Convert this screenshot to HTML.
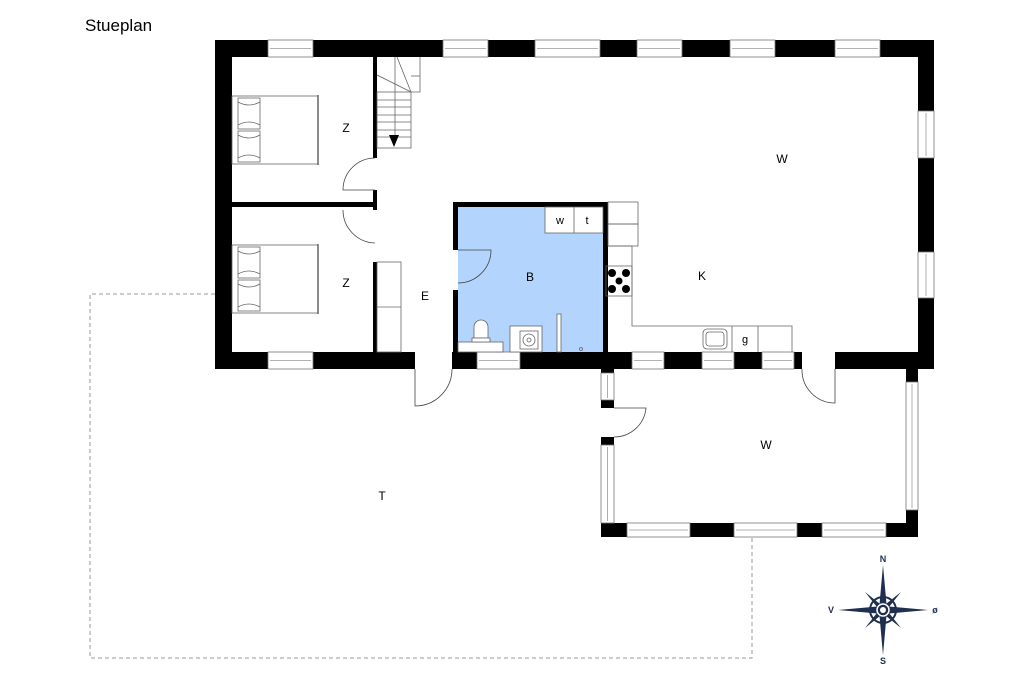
<!DOCTYPE html>
<html><head><meta charset="utf-8"><style>
html,body{margin:0;padding:0;background:#fff;}
svg{display:block;font-family:"Liberation Sans",sans-serif;}
</style></head><body>
<svg width="1024" height="682" viewBox="0 0 1024 682" xmlns="http://www.w3.org/2000/svg">
<rect width="1024" height="682" fill="#fff"/>
<text x="85" y="31" font-size="17" fill="#000">Stueplan</text>

<polyline points="215,294 90,294 90,658 752,658 752,537" fill="none" stroke="#999" stroke-width="1" stroke-dasharray="4,3"/>

<rect x="458" y="207" width="146" height="145" fill="#b3d4fc"/>

<g fill="#000">
<rect x="215" y="40" width="719" height="17"/>
<rect x="215" y="40" width="17" height="329"/>
<rect x="918" y="40" width="16" height="329"/>
<rect x="215" y="352" width="200" height="17"/>
<rect x="452" y="352" width="350" height="17"/>
<rect x="835" y="352" width="99" height="17"/>
<rect x="373" y="57" width="4" height="101"/>
<rect x="373" y="190" width="4" height="20"/>
<rect x="373" y="262" width="4" height="90"/>
<rect x="232" y="202" width="145" height="5"/>
<rect x="453" y="202" width="155" height="5"/>
<rect x="453" y="202" width="5" height="48"/>
<rect x="453" y="290" width="5" height="62"/>
<rect x="603" y="202" width="5" height="150"/>
<rect x="601" y="369" width="13" height="4"/>
<rect x="601" y="400" width="13" height="8"/>
<rect x="601" y="437" width="13" height="8"/>
<rect x="601" y="523" width="317" height="14"/>
<rect x="906" y="369" width="12" height="13"/>
<rect x="906" y="510" width="12" height="27"/>
</g>

<g fill="#fff" stroke="#777" stroke-width="0.8">
<rect x="268" y="40" width="45" height="17"/>
<rect x="443" y="40" width="45" height="17"/>
<rect x="535" y="40" width="65" height="17"/>
<rect x="637" y="40" width="45" height="17"/>
<rect x="730" y="40" width="45" height="17"/>
<rect x="835" y="40" width="45" height="17"/>
<rect x="918" y="111" width="16" height="47"/>
<rect x="918" y="252" width="16" height="46"/>
<rect x="268" y="352" width="45" height="17"/>
<rect x="477" y="352" width="43" height="17"/>
<rect x="632" y="352" width="32" height="17"/>
<rect x="702" y="352" width="32" height="17"/>
<rect x="762" y="352" width="32" height="17"/>
<rect x="627" y="523" width="63" height="14"/>
<rect x="734" y="523" width="63" height="14"/>
<rect x="822" y="523" width="64" height="14"/>
<rect x="601" y="373" width="13" height="27"/>
<rect x="601" y="445" width="13" height="78"/>
<rect x="906" y="382" width="12" height="128"/>
</g>
<g stroke="#999" stroke-width="0.8">
<line x1="270" y1="48.5" x2="311" y2="48.5"/><line x1="445" y1="48.5" x2="486" y2="48.5"/>
<line x1="537" y1="48.5" x2="598" y2="48.5"/><line x1="639" y1="48.5" x2="680" y2="48.5"/>
<line x1="732" y1="48.5" x2="773" y2="48.5"/><line x1="837" y1="48.5" x2="878" y2="48.5"/>
<line x1="926" y1="113" x2="926" y2="156"/><line x1="926" y1="254" x2="926" y2="296"/>
<line x1="270" y1="360.5" x2="311" y2="360.5"/><line x1="479" y1="360.5" x2="518" y2="360.5"/>
<line x1="634" y1="360.5" x2="662" y2="360.5"/><line x1="704" y1="360.5" x2="732" y2="360.5"/>
<line x1="764" y1="360.5" x2="792" y2="360.5"/>
<line x1="629" y1="530" x2="688" y2="530"/><line x1="736" y1="530" x2="795" y2="530"/>
<line x1="824" y1="530" x2="884" y2="530"/>
<line x1="607.5" y1="375" x2="607.5" y2="398"/><line x1="607.5" y1="447" x2="607.5" y2="521"/>
<line x1="912" y1="384" x2="912" y2="508"/>
</g>

<g fill="none" stroke="#444" stroke-width="0.8">
<path d="M375,158 A32,32 0 0 0 343,190 L375,190"/>
<path d="M343,210 A33,33 0 0 0 375,243"/>
<path d="M458,250 L491,250 A33,33 0 0 1 458,283"/>
<path d="M415,369 L415,406 A37,37 0 0 0 452,369"/>
<path d="M835,369 L835,403 A33,33 0 0 1 802,369"/>
<path d="M614,408 L646,408 A32,32 0 0 1 614,437"/>
</g>

<g fill="none" stroke="#666" stroke-width="0.8">
<rect x="232" y="96" width="86" height="68"/>
<line x1="318" y1="95" x2="318" y2="165" stroke-width="1.5"/>
<rect x="238" y="98" width="22" height="31"/><rect x="238" y="131" width="22" height="31"/>
<path d="M238,102 Q249,108 260,102 M238,125 Q249,119 260,125 M238,135 Q249,141 260,135 M238,158 Q249,152 260,158"/>
<rect x="232" y="245" width="86" height="68"/>
<line x1="318" y1="244" x2="318" y2="314" stroke-width="1.5"/>
<rect x="238" y="247" width="22" height="31"/><rect x="238" y="280" width="22" height="31"/>
<path d="M238,251 Q249,257 260,251 M238,274 Q249,268 260,274 M238,284 Q249,290 260,284 M238,307 Q249,301 260,307"/>
<rect x="377" y="92" width="34" height="56"/>
<polyline points="395,57 395,92 M411,92 411,57"/>
<line x1="411" y1="76" x2="420" y2="76"/><polyline points="420,57 420,92 411,92"/>
<line x1="377" y1="75" x2="411" y2="92"/><line x1="397" y1="57" x2="411" y2="92"/>
<line x1="377" y1="100" x2="411" y2="100"/><line x1="377" y1="107" x2="411" y2="107"/>
<line x1="377" y1="115" x2="411" y2="115"/><line x1="377" y1="122" x2="411" y2="122"/>
<line x1="377" y1="130" x2="411" y2="130"/><line x1="377" y1="137" x2="411" y2="137"/>
<line x1="395" y1="92" x2="395" y2="140"/>
<rect x="377" y="262" width="24" height="90"/><line x1="377" y1="307" x2="401" y2="307"/>
<rect x="545" y="207" width="58" height="26" fill="#fff"/><line x1="574" y1="207" x2="574" y2="233"/>
<rect x="458" y="342" width="45" height="10" fill="#fff"/>
<path d="M474,338 L474,327 A7,7 0 0 1 488,327 L488,338 Z" fill="#fff"/>
<rect x="472" y="338" width="18" height="4" fill="#fff"/>
<rect x="510" y="326" width="32" height="26" fill="#fff"/>
<rect x="520" y="331" width="18" height="18" fill="#fff"/>
<circle cx="529" cy="340" r="6"/><circle cx="529" cy="340" r="2"/>
<rect x="557" y="314" width="4" height="38" fill="#fff"/>
<circle cx="581" cy="349" r="1.5"/>
<rect x="608" y="202" width="30" height="22"/><rect x="608" y="224" width="30" height="22"/>
<polyline points="608,246 632,246 632,326 792,326 792,352"/>
<rect x="606" y="266" width="26" height="30"/>
<rect x="703" y="329" width="24" height="20" rx="4"/><rect x="706" y="332" width="18" height="14" rx="3"/>
<line x1="732" y1="326" x2="732" y2="352"/><line x1="758" y1="326" x2="758" y2="352"/>
</g>
<g fill="#000">
<circle cx="612" cy="273" r="4"/><circle cx="626" cy="273" r="4"/>
<circle cx="612" cy="289" r="4"/><circle cx="626" cy="289" r="4"/><circle cx="619" cy="281" r="3.5"/>
<polygon points="389,135 399,135 394,147"/>
</g>

<g font-size="12" fill="#000" text-anchor="middle">
<text x="346" y="132">Z</text><text x="346" y="287">Z</text>
<text x="425" y="300">E</text><text x="530" y="281">B</text>
<text x="702" y="280">K</text><text x="782" y="163">W</text>
<text x="766" y="449">W</text><text x="382" y="500">T</text>
<text x="560" y="224" font-size="11">w</text><text x="587" y="224" font-size="11">t</text>
<text x="745" y="343" font-size="11">g</text>
</g>

<g transform="translate(883,610)">
<circle r="13" fill="none" stroke="#1f2f4f" stroke-width="2"/>
<g fill="#1f2f4f">
<polygon points="0,-45 4,0 0,45 -4,0"/>
<polygon points="-45,0 0,-4 45,0 0,4"/>
<polygon points="-18,-18 2,-2 18,18 -2,2" />
<polygon points="18,-18 2,2 -18,18 -2,-2"/>
</g>
<circle r="6" fill="#1f2f4f" stroke="#fff" stroke-width="1.5"/>
<circle r="3" fill="#fff"/>
<g font-size="9" font-weight="bold" fill="#1f2f4f" text-anchor="middle">
<text x="0" y="-48">N</text><text x="0" y="54">S</text>
<text x="-52" y="3">V</text><text x="52" y="3">ø</text>
</g>
</g>
</svg>
</body></html>
